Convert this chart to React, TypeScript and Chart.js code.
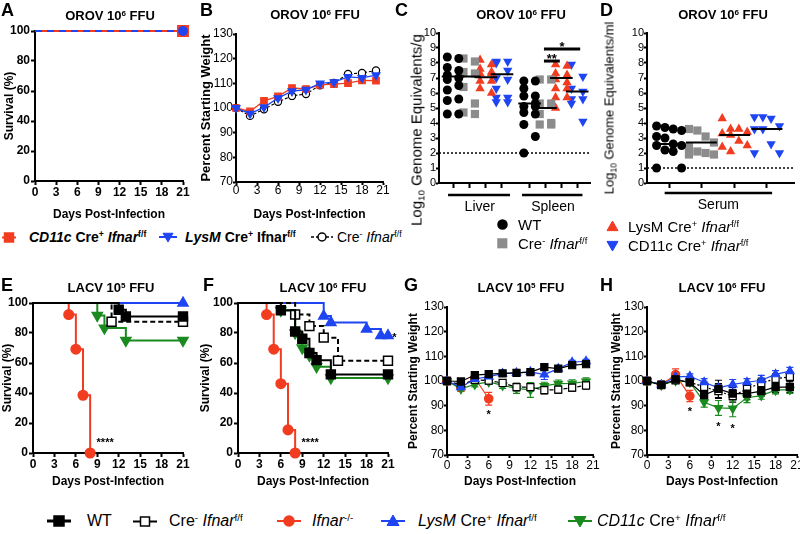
import React, { useEffect, useRef } from "react";
import { Chart, registerables } from "chart.js";

Chart.register(...registerables);
const FONT = "'Liberation Sans', Arial, Helvetica, sans-serif";
Chart.defaults.font.family = FONT;
Chart.defaults.color = "#000";

const RED = "#f23c20";
const BLUE = "#1f45f2";
const GREEN = "#1a8a1f";
const GREY = "#8c8c8c";
const BLACK = "#000000";

// ---------------- DATA ----------------
const WEIGHT_DAYS = [0, 2, 4, 6, 8, 10, 12, 14, 16, 18, 20];

// A: OROV survival
const A_DAYS = [0, 21];
const A_CD11C = [100, 100];
const A_LYSM = [100, 100];
const A_CRE = [100, 100];

// B: OROV weight
const B_CD11C = [100, 98.6, 102.9, 104.7, 108.1, 107.7, 109.4, 109.7, 110.1, 111.2, 111.1];
const B_LYSM = [100, 97.7, 100.3, 104.0, 106.8, 107.4, 110.0, 110.5, 112.6, 112.2, 113.3];
const B_CRE = [100, 96.8, 99.5, 102.5, 104.9, 105.7, 109.2, 110.2, 113.8, 114.2, 115.2];

// C: tissue titers (log10 GE/g)
const C_LIVER_WT = [8.4, 8.3, 7.7, 7.5, 7.2, 7.0, 6.9, 6.5, 6.2, 5.6, 5.5, 4.6, 4.6];
const C_LIVER_CRE = [8.3, 8.1, 7.4, 7.3, 6.4, 5.3, 4.7, 4.6];
const C_LIVER_LYSM = [8.2, 7.9, 7.6, 7.4, 7.3, 7.3, 6.8, 6.8, 6.3, 6.0];
const C_LIVER_CD11C = [8.1, 8.1, 8.0, 7.5, 7.0, 6.9, 6.3, 5.7, 5.7, 5.4, 5.4];
const C_SPLEEN_WT = [6.8, 6.8, 6.3, 5.8, 5.8, 5.3, 5.1, 5.1, 4.7, 4.6, 3.9, 3.1, 2.0];
const C_SPLEEN_CRE = [6.9, 6.9, 5.3, 5.3, 4.6, 4.0, 3.9, 3.9];
const C_SPLEEN_LYSM = [7.9, 7.8, 7.3, 7.2, 6.9, 6.7, 6.3, 6.3, 5.7, 5.7, 5.0];
const C_SPLEEN_CD11C = [7.9, 7.1, 6.3, 6.1, 5.6, 5.6, 5.3, 4.1];
const C_MEDIANS = [7.1, 7.1, 7.05, 7.25, 5.3, 5.0, 7.0, 6.1];
const C_POS = [0.93, 2.0, 3.1, 4.17, 6.0, 7.05, 8.1, 9.15];
const C_GROUP_LABELS = ["Liver", "Spleen"];
const C_GROUP_CENTERS = [2.7, 7.55];
const C_GROUP_SPANS = [[0.6, 4.7], [5.5, 9.5]];
const C_LOD = 2;
const C_SIG = [
  { from: 6.95, to: 8.0, y: 8.13, label: "**", ly: 8.5 },
  { from: 6.95, to: 9.35, y: 8.93, label: "*", ly: 9.3 },
];

// D: serum titers (log10 GE/ml)
const D_WT = [3.8, 3.7, 3.6, 3.5, 3.1, 3.0, 2.6, 2.5, 2.5, 2.2, 2.1, 1.0, 1.0];
const D_CRE = [3.6, 3.5, 3.1, 2.7, 2.4, 2.1, 2.0, 1.9, 1.9];
const D_LYSM = [4.3, 3.6, 3.6, 3.4, 3.3, 3.2, 2.8, 2.5, 2.4, 2.1];
const D_CD11C = [4.4, 4.4, 4.3, 3.8, 3.6, 3.6, 2.6, 2.0, 2.0];
const D_MEDIANS = [2.6, 2.7, 3.2, 3.6];
const D_POS = [1.5, 3.7, 5.96, 8.15];
const D_GROUP_LABELS = ["Serum"];
const D_GROUP_CENTERS = [4.85];
const D_GROUP_SPANS = [[1.2, 8.5]];
const D_LOD = 1;

// E: LACV 10^5 survival (event day, survival %)
const E_WT_T = [12, 13, 21], E_WT_S = [95.5, 91, 91];
const E_CRE_T = [11, 21], E_CRE_S = [87.5, 87.5];
const E_IFNAR_T = [5, 6, 7, 8], E_IFNAR_S = [92.3, 69.2, 38.5, 0];
const E_LYSM_T = [21], E_LYSM_S = [100];
const E_CD11C_T = [9, 10, 13, 21], E_CD11C_S = [91.7, 83.3, 75, 75];

// F: LACV 10^6 survival
const F_WT_T = [6, 8, 9, 10, 11, 13, 21], F_WT_S = [95.2, 81, 76.2, 66.7, 61.9, 52.4, 52.4];
const F_CRE_T = [8, 10, 12, 14, 21], F_CRE_S = [92.3, 84.6, 76.9, 61.5, 61.5];
const F_IFNAR_T = [4, 5, 6, 7, 8], F_IFNAR_S = [92.3, 69.2, 46.2, 15.4, 0];
const F_LYSM_T = [12, 13, 18, 20, 21], F_LYSM_S = [91.3, 87.0, 82.6, 78.3, 78.3];
const F_CD11C_T = [6, 8, 9, 10, 11, 13, 21], F_CD11C_S = [95, 80, 70, 65, 57.5, 50, 50];

// G: LACV 10^5 weight (mean, SEM)
const G_WT = [100, 99.8, 102.4, 102.8, 103.1, 103.3, 103.6, 105.6, 105.0, 106.4, 106.8];
const G_LYSM = [100, 97.5, 100.8, 101.8, 103.0, 103.3, 103.7, 102.6, 105.0, 107.6, 108.0];
const G_CRE = [100, 98.5, 100.5, 100.2, 99.2, 97.5, 97.5, 96.3, 96.5, 97.3, 98.2];
const G_CD11C = [100, 96.8, 98.6, 99.6, 98.2, 97.0, 96.4, 98.0, 98.9, 99.0, 99.8];
const G_IFNAR = [100, 97.3, 101.2, 92.8];
const G_WT_SEM = [0, 0.6, 0.6, 0.6, 0.6, 0.6, 0.6, 0.9, 0.6, 0.6, 0.6];
const G_LYSM_SEM = [0, 0.8, 0.8, 0.8, 0.6, 0.6, 0.6, 2.0, 0.8, 0.8, 0.8];
const G_CRE_SEM = [0, 1, 1, 1, 1.2, 1.5, 1.5, 1.5, 1.5, 1.5, 1.5];
const G_CD11C_SEM = [0, 1, 1, 1, 1.2, 2, 3, 1.5, 1.5, 1.5, 1.5];
const G_IFNAR_SEM = [0, 1.5, 1, 2.6];

// H: LACV 10^6 weight (mean, SEM)
const H_WT = [100, 98.3, 100.7, 99.4, 94.3, 96.8, 94.9, 94.9, 95.9, 97.5, 97.5];
const H_LYSM = [100, 98.5, 101.7, 101.9, 99.5, 97.2, 98.6, 99.5, 100.3, 102.7, 104.0];
const H_CRE = [100, 98.5, 100.3, 99.5, 97.6, 95.9, 93.9, 96.8, 99.2, 100.9, 101.7];
const H_CD11C = [100, 98.3, 100.1, 99.5, 91.4, 89.1, 88.9, 93.2, 94.1, 96.3, 96.5];
const H_IFNAR = [100, 98.5, 102.6, 93.9];
const H_WT_SEM = [0, 1, 1, 1, 2, 3.5, 2.5, 2.5, 2, 2.2, 2.2];
const H_LYSM_SEM = [0, 1, 1, 1, 1.5, 1.5, 2, 1.5, 2, 1.5, 1.5];
const H_CRE_SEM = [0, 1, 1, 1, 2, 3, 2.5, 2, 2, 2, 2];
const H_CD11C_SEM = [0, 1, 1, 1, 2, 3, 3.4, 2, 1.5, 1.5, 1.5];
const H_IFNAR_SEM = [0, 1.5, 2.3, 2.3];

// ---------------- LAYOUT ----------------
type Rect = { left: number; top: number; width: number; height: number };
type Area = { left: number; top: number; right: number; bottom: number };

const A_BOX: Rect = { left: 0, top: 20, width: 195, height: 202 };
const A_AREA: Area = { left: 35, top: 31, right: 183, bottom: 181 };
const B_BOX: Rect = { left: 195, top: 20, width: 200, height: 202 };
const B_AREA: Area = { left: 236, top: 34, right: 383, bottom: 182 };
const C_BOX: Rect = { left: 420, top: 20, width: 180, height: 200 };
const C_AREA: Area = { left: 439, top: 33, right: 590, bottom: 183 };
const D_BOX: Rect = { left: 628, top: 20, width: 172, height: 200 };
const D_AREA: Area = { left: 647, top: 33, right: 798, bottom: 183 };
const E_BOX: Rect = { left: 0, top: 292, width: 195, height: 197 };
const E_AREA: Area = { left: 33, top: 303, right: 183, bottom: 453 };
const F_BOX: Rect = { left: 195, top: 292, width: 205, height: 197 };
const F_AREA: Area = { left: 238, top: 303, right: 388, bottom: 453 };
const G_BOX: Rect = { left: 400, top: 292, width: 205, height: 197 };
const G_AREA: Area = { left: 447, top: 307, right: 593, bottom: 455 };
const H_BOX: Rect = { left: 600, top: 292, width: 210, height: 197 };
const H_AREA: Area = { left: 647, top: 307, right: 797, bottom: 455 };

const C_JITTER = [-0.38, 0.38];
const D_JITTER = [-0.85, -0.28, 0.28, 0.85];

function fitLayout(box: Rect, area: Area) {
  return {
    padTop: area.top - box.top,
    padRight: box.left + box.width - area.right,
    yWidth: area.left - box.left,
    xHeight: box.top + box.height - area.bottom,
  };
}

const AX_BORDER = { display: true, color: BLACK, width: 2 };
function gridTicks(len: number) {
  return { display: true, drawOnChartArea: false, drawTicks: true, tickLength: len, tickWidth: 2, tickColor: BLACK };
}

function baseOptions(L: any) {
  return {
    responsive: false,
    animation: false,
    events: [],
    layout: { padding: { top: L.padTop, right: L.padRight, left: 0, bottom: 0 } },
    plugins: { legend: { display: false }, tooltip: { enabled: false }, title: { display: false } },
  };
}

function dayAxis(L: any, o: { bold: boolean; tl: number; pad: number }) {
  return {
    type: "linear", min: 0, max: 21, weight: 0,
    afterFit: (s: any) => { s.height = L.xHeight; },
    ticks: { stepSize: 3, autoSkip: false, maxRotation: 0, color: BLACK, padding: o.pad, font: { size: 12, weight: o.bold ? "bold" : "normal" } },
    grid: gridTicks(o.tl),
    border: AX_BORDER,
    title: { display: true, text: "Days Post-Infection", color: BLACK, font: { size: 12, weight: "bold" }, padding: { top: 0, bottom: 0 } },
  };
}

function valueAxis(L: any, o: any) {
  return {
    type: "linear", min: o.min, max: o.max,
    afterFit: (s: any) => { s.width = L.yWidth; },
    ticks: { stepSize: o.step, autoSkip: false, color: BLACK, padding: o.pad, font: { size: o.tickSize || 12, weight: o.bold ? "bold" : "normal" } },
    grid: gridTicks(o.tl),
    border: AX_BORDER,
    title: o.title
      ? { display: true, text: o.title, color: BLACK, font: { size: o.titleSize, weight: "bold" }, padding: { top: o.titlePad, bottom: 0 } }
      : { display: false },
  };
}

type Note = { x: number; y: number; text: string; size?: number };
function overlayPlugin(spec: { errors?: { ds: number; err: number[] }[]; notes?: Note[]; bars?: { from: number; to: number; below: number }[] }) {
  return {
    id: "overlay",
    beforeDatasetsDraw(chart: any) {
      const ctx = chart.ctx;
      const ys = chart.scales.y;
      (spec.errors || []).forEach(({ ds, err }) => {
        const dset = chart.data.datasets[ds];
        const meta = chart.getDatasetMeta(ds);
        ctx.save();
        ctx.strokeStyle = dset.borderColor;
        ctx.lineWidth = 1.2;
        ctx.setLineDash([]);
        meta.data.forEach((pt: any, j: number) => {
          const e = err[j];
          if (!e) return;
          const v = dset.data[j].y;
          const y1 = ys.getPixelForValue(v - e);
          const y2 = ys.getPixelForValue(v + e);
          ctx.beginPath();
          ctx.moveTo(pt.x, y1); ctx.lineTo(pt.x, y2);
          ctx.moveTo(pt.x - 3.5, y1); ctx.lineTo(pt.x + 3.5, y1);
          ctx.moveTo(pt.x - 3.5, y2); ctx.lineTo(pt.x + 3.5, y2);
          ctx.stroke();
        });
        ctx.restore();
      });
    },
    afterDraw(chart: any) {
      const { ctx, chartArea } = chart;
      const xs = chart.scales.x;
      const ys = chart.scales.y;
      ctx.save();
      (spec.bars || []).forEach((b) => {
        const y = chartArea.bottom + b.below;
        ctx.strokeStyle = BLACK;
        ctx.lineWidth = 2.5;
        ctx.setLineDash([]);
        ctx.beginPath();
        ctx.moveTo(xs.getPixelForValue(b.from), y);
        ctx.lineTo(xs.getPixelForValue(b.to), y);
        ctx.stroke();
      });
      (spec.notes || []).forEach((n) => {
        const size = n.size || 11;
        ctx.fillStyle = BLACK;
        ctx.font = `bold ${size}px ${FONT}`;
        ctx.textAlign = "center";
        ctx.textBaseline = "middle";
        ctx.fillText(n.text, xs.getPixelForValue(n.x), ys.getPixelForValue(n.y) + size * 0.3);
      });
      ctx.restore();
    },
  };
}

// ---------------- SERIES BUILDERS ----------------
function survSeries(times: number[], vals: number[], color: string, style: string, r: number, o: any = {}) {
  const pts = [{ x: 0, y: 100 }, ...times.map((t, i) => ({ x: t, y: vals[i] }))];
  return {
    data: pts, stepped: "before", clip: false, tension: 0, fill: false,
    borderColor: color, backgroundColor: color, borderWidth: 2, borderDash: o.dash || [],
    pointStyle: style, pointRotation: o.rot || 0,
    pointRadius: pts.map((_, i) => (i === 0 ? 0 : r)),
    pointBackgroundColor: o.fill || color, pointBorderColor: color, pointBorderWidth: 1.5,
  };
}

function weightSeries(vals: number[], color: string, style: string, r: number, o: any = {}) {
  const pts = vals.map((v, i) => ({ x: WEIGHT_DAYS[i], y: v }));
  return {
    data: pts, clip: false, tension: 0, fill: false,
    borderColor: color, backgroundColor: color, borderWidth: o.bw || 1.2, borderDash: o.dash || [],
    pointStyle: style, pointRotation: o.rot || 0, pointRadius: r,
    pointBackgroundColor: o.fill || color, pointBorderColor: color, pointBorderWidth: 1.2,
  };
}

function dotSeries(vals: number[], pos: number, jitter: number[], st: any) {
  return {
    data: vals.map((v, i) => ({ x: pos + jitter[i % jitter.length], y: v })),
    showLine: false, clip: false, order: 2,
    pointStyle: st.style, pointRadius: st.r, pointRotation: st.rot,
    pointBackgroundColor: st.color, pointBorderColor: st.color, pointBorderWidth: 0,
    borderColor: st.color, backgroundColor: st.color,
  };
}

function segSeries(x1: number, x2: number, y: number, width: number, dash: number[] = [], order = 0) {
  return {
    data: [{ x: x1, y }, { x: x2, y }], borderColor: BLACK, borderWidth: width, borderDash: dash,
    pointRadius: 0, clip: false, order, tension: 0, fill: false,
  };
}

const DOT_STYLES = [
  { color: BLACK, style: "circle", r: 4.5, rot: 0 },
  { color: GREY, style: "rect", r: 5.8, rot: 0 },
  { color: RED, style: "triangle", r: 5.4, rot: 0 },
  { color: BLUE, style: "triangle", r: 5.4, rot: 180 },
];

// ---------------- CHART CONFIGS ----------------
function makeA() {
  const L = fitLayout(A_BOX, A_AREA);
  const mk = (vals: number[]) => A_DAYS.map((d, i) => ({ x: d, y: vals[i] }));
  const last = (r: number) => A_DAYS.map((_, i) => (i === A_DAYS.length - 1 ? r : 0));
  return {
    type: "line",
    data: {
      datasets: [
        { data: mk(A_LYSM), borderColor: BLUE, borderWidth: 2, borderDash: [7, 5], pointStyle: "circle", pointRadius: last(4), pointBackgroundColor: BLUE, pointBorderColor: BLUE, clip: false, order: 0 },
        { data: mk(A_CD11C), borderColor: RED, borderWidth: 2, pointStyle: "rect", pointRadius: last(7), pointBackgroundColor: RED, pointBorderColor: RED, clip: false, order: 1 },
        { data: mk(A_CRE), borderColor: BLACK, borderWidth: 1.5, borderDash: [4, 3], pointStyle: "circle", pointRadius: last(3.5), pointBackgroundColor: "#fff", pointBorderColor: BLACK, clip: false, order: 2 },
      ],
    },
    options: {
      ...baseOptions(L),
      scales: {
        x: dayAxis(L, { bold: true, tl: 4, pad: 0 }),
        y: valueAxis(L, { min: 0, max: 100, step: 20, bold: true, tl: 4, pad: 1, title: "Survival (%)", titleSize: 12, titlePad: 2 }),
      },
    },
  };
}

function makeB() {
  const L = fitLayout(B_BOX, B_AREA);
  return {
    type: "line",
    data: {
      datasets: [
        weightSeries(B_LYSM, BLUE, "triangle", 4.6, { rot: 180, bw: 1.3 }),
        weightSeries(B_CD11C, RED, "rect", 4.6, { bw: 1.3 }),
        weightSeries(B_CRE, BLACK, "circle", 3.6, { fill: "#fff", dash: [3, 2], bw: 1.1 }),
      ],
    },
    options: {
      ...baseOptions(L),
      scales: {
        x: dayAxis(L, { bold: false, tl: 3, pad: -2 }),
        y: valueAxis(L, { min: 70, max: 130, step: 10, bold: false, tl: 3, pad: 0, title: "Percent Starting Weight", titleSize: 13, titlePad: 4 }),
      },
    },
  };
}

function dotConfig(box: Rect, area: Area, groups: number[][], pos: number[], medians: number[], medHalf: number, jitter: number[], lod: number, x1h: number, labels: string[], centers: number[], spans: number[][], below: number, extra: any[], notes: Note[]) {
  const L = fitLayout(box, area);
  const datasets: any[] = [];
  medians.forEach((m, i) => datasets.push(segSeries(pos[i] - medHalf, pos[i] + medHalf, m, 2, [], 0)));
  extra.forEach((e) => datasets.push(e));
  groups.forEach((g, i) => datasets.push(dotSeries(g, pos[i], jitter, DOT_STYLES[i % 4])));
  datasets.push(segSeries(0, 10, lod, 1.5, [2, 2], 3));
  return {
    type: "line",
    data: { datasets },
    options: {
      ...baseOptions(L),
      scales: {
        x: {
          type: "linear", min: 0, max: 10, weight: 0,
          afterBuildTicks: (s: any) => { s.ticks = pos.map((v) => ({ value: v })); },
          afterFit: (s: any) => { s.height = x1h; },
          ticks: { callback: () => "", autoSkip: false, maxRotation: 0 },
          grid: gridTicks(5),
          border: AX_BORDER,
        },
        x2: {
          type: "linear", position: "bottom", axis: "x", min: 0, max: 10, weight: 1,
          afterBuildTicks: (s: any) => { s.ticks = centers.map((v) => ({ value: v })); },
          afterFit: (s: any) => { s.height = L.xHeight - x1h; },
          ticks: { callback: (_v: any, i: number) => labels[i], autoSkip: false, maxRotation: 0, color: BLACK, padding: 2.6, font: { size: 14 } },
          grid: { display: false, drawTicks: false, tickLength: 0 },
          border: { display: false },
        },
        y: valueAxis(L, { min: 0, max: 10, step: 1, bold: false, tl: 3, pad: 0, tickSize: 11 }),
      },
    },
    plugins: [overlayPlugin({ bars: spans.map((s) => ({ from: s[0], to: s[1], below })), notes })],
  };
}

function makeC() {
  const sig = C_SIG.map((s) => segSeries(s.from, s.to, s.y, 3, [], 0));
  const notes = C_SIG.map((s) => ({ x: (s.from + s.to) / 2, y: s.ly, text: s.label, size: 13 }));
  return dotConfig(
    C_BOX, C_AREA,
    [C_LIVER_WT, C_LIVER_CRE, C_LIVER_LYSM, C_LIVER_CD11C, C_SPLEEN_WT, C_SPLEEN_CRE, C_SPLEEN_LYSM, C_SPLEEN_CD11C],
    C_POS, C_MEDIANS, 0.75, C_JITTER, C_LOD, 13, C_GROUP_LABELS, C_GROUP_CENTERS, C_GROUP_SPANS, 12, sig, notes,
  );
}

function makeD() {
  return dotConfig(
    D_BOX, D_AREA, [D_WT, D_CRE, D_LYSM, D_CD11C], D_POS, D_MEDIANS, 1.05, D_JITTER, D_LOD, 11,
    D_GROUP_LABELS, D_GROUP_CENTERS, D_GROUP_SPANS, 10, [], [],
  );
}

function survConfig(box: Rect, area: Area, sets: any[], notes: Note[], titlePad: number) {
  const L = fitLayout(box, area);
  return {
    type: "line",
    data: { datasets: sets },
    options: {
      ...baseOptions(L),
      scales: {
        x: dayAxis(L, { bold: true, tl: 4, pad: 0 }),
        y: valueAxis(L, { min: 0, max: 100, step: 20, bold: true, tl: 4, pad: 1, title: "Survival (%)", titleSize: 12, titlePad }),
      },
    },
    plugins: [overlayPlugin({ notes })],
  };
}

function makeE() {
  return survConfig(E_BOX, E_AREA, [
    survSeries(E_WT_T, E_WT_S, BLACK, "rect", 6.3),
    survSeries(E_CRE_T, E_CRE_S, BLACK, "rect", 6.3, { fill: "#fff", dash: [5, 3] }),
    survSeries(E_CD11C_T, E_CD11C_S, GREEN, "triangle", 5.8, { rot: 180 }),
    survSeries(E_LYSM_T, E_LYSM_S, BLUE, "triangle", 5.8),
    survSeries(E_IFNAR_T, E_IFNAR_S, RED, "circle", 4.8),
  ], [{ x: 10.1, y: 8.9, text: "****", size: 11 }], 0);
}

function makeF() {
  return survConfig(F_BOX, F_AREA, [
    survSeries(F_WT_T, F_WT_S, BLACK, "rect", 6.3),
    survSeries(F_CRE_T, F_CRE_S, BLACK, "rect", 6.3, { fill: "#fff", dash: [5, 3] }),
    survSeries(F_CD11C_T, F_CD11C_S, GREEN, "triangle", 5.8, { rot: 180 }),
    survSeries(F_LYSM_T, F_LYSM_S, BLUE, "triangle", 5.8),
    survSeries(F_IFNAR_T, F_IFNAR_S, RED, "circle", 4.8),
  ], [{ x: 10.1, y: 8.9, text: "****", size: 11 }, { x: 21.9, y: 79, text: "*", size: 11 }], 3);
}

function weightConfig(box: Rect, area: Area, sets: any[], errs: number[][], notes: Note[], titlePad: number) {
  const L = fitLayout(box, area);
  return {
    type: "line",
    data: { datasets: sets },
    options: {
      ...baseOptions(L),
      scales: {
        x: dayAxis(L, { bold: false, tl: 3, pad: 0 }),
        y: valueAxis(L, { min: 70, max: 130, step: 10, bold: false, tl: 3, pad: 0, title: "Percent Starting Weight", titleSize: 12, titlePad }),
      },
    },
    plugins: [overlayPlugin({ errors: errs.map((err, ds) => ({ ds, err })), notes })],
  };
}

function makeG() {
  return weightConfig(G_BOX, G_AREA, [
    weightSeries(G_WT, BLACK, "rect", 5),
    weightSeries(G_LYSM, BLUE, "triangle", 4.8),
    weightSeries(G_CRE, BLACK, "rect", 5, { fill: "#fff", dash: [4, 3] }),
    weightSeries(G_CD11C, GREEN, "triangle", 4.8, { rot: 180 }),
    weightSeries(G_IFNAR, RED, "circle", 4.2),
  ], [G_WT_SEM, G_LYSM_SEM, G_CRE_SEM, G_CD11C_SEM, G_IFNAR_SEM], [{ x: 6, y: 87.6, text: "*", size: 11 }], 6);
}

function makeH() {
  return weightConfig(H_BOX, H_AREA, [
    weightSeries(H_WT, BLACK, "rect", 5),
    weightSeries(H_LYSM, BLUE, "triangle", 4.8),
    weightSeries(H_CRE, BLACK, "rect", 5, { fill: "#fff", dash: [2, 2] }),
    weightSeries(H_CD11C, GREEN, "triangle", 4.8, { rot: 180 }),
    weightSeries(H_IFNAR, RED, "circle", 4.2),
  ], [H_WT_SEM, H_LYSM_SEM, H_CRE_SEM, H_CD11C_SEM, H_IFNAR_SEM], [
    { x: 6, y: 88.7, text: "*", size: 11 },
    { x: 10, y: 82.8, text: "*", size: 11 },
    { x: 12, y: 82.0, text: "*", size: 11 },
  ], 9);
}

// ---------------- COMPONENTS ----------------
function Panel({ box, make }: { box: Rect; make: () => any }) {
  const ref = useRef<HTMLCanvasElement | null>(null);
  useEffect(() => {
    if (!ref.current) return;
    const chart = new Chart(ref.current, make() as any);
    return () => chart.destroy();
  }, []);
  return (
    <canvas
      ref={ref}
      width={box.width}
      height={box.height}
      style={{ position: "absolute", left: box.left, top: box.top, width: box.width, height: box.height }}
    />
  );
}

const Sup = ({ children }: any) => (
  <span style={{ fontSize: "0.62em", verticalAlign: "0.55em", lineHeight: 0 }}>{children}</span>
);
const Sub = ({ children }: any) => (
  <span style={{ fontSize: "0.65em", verticalAlign: "-0.3em", lineHeight: 0 }}>{children}</span>
);

function Txt({ x, y, size, bold, align, w = 300, children }: any) {
  const lh = Math.round(size * 1.25);
  const style: any = {
    position: "absolute", top: y - lh / 2, fontSize: size, lineHeight: lh + "px",
    fontWeight: bold ? "bold" : "normal", whiteSpace: "nowrap", color: "#000",
  };
  if (align === "center") { style.left = x - w / 2; style.width = w; style.textAlign = "center"; }
  else style.left = x;
  return <div style={style}>{children}</div>;
}

function VTxt({ cx, cy, size, children }: any) {
  return (
    <div style={{ position: "absolute", left: cx, top: cy, transform: "translate(-50%, -50%) rotate(-90deg)", fontSize: size, lineHeight: 1, whiteSpace: "nowrap", color: "#000" }}>
      {children}
    </div>
  );
}

function Mk({ cx, cy, shape, color, fill, half = 0, lw = 2, dash, s = 5 }: any) {
  const W = Math.max(half, s) * 2 + 4;
  const H = s * 2 + 4;
  const ox = W / 2, oy = H / 2;
  let el: any = null;
  if (shape === "rect") el = <rect x={ox - s} y={oy - s} width={2 * s} height={2 * s} fill={fill} stroke={color} strokeWidth={1.5} />;
  else if (shape === "circle") el = <circle cx={ox} cy={oy} r={s} fill={fill} stroke={color} strokeWidth={1.5} />;
  else if (shape === "up") el = <polygon points={`${ox},${oy - s} ${ox + s},${oy + s * 0.75} ${ox - s},${oy + s * 0.75}`} fill={fill} stroke={color} strokeWidth={1} />;
  else if (shape === "down") el = <polygon points={`${ox},${oy + s} ${ox + s},${oy - s * 0.75} ${ox - s},${oy - s * 0.75}`} fill={fill} stroke={color} strokeWidth={1} />;
  return (
    <svg width={W} height={H} style={{ position: "absolute", left: cx - ox, top: cy - oy, overflow: "visible" }}>
      {half > 0 && <line x1={ox - half} y1={oy} x2={ox + half} y2={oy} stroke={color} strokeWidth={lw} strokeDasharray={dash} />}
      {el}
    </svg>
  );
}

export default function App() {
  return (
    <div style={{ position: "absolute", left: 0, top: 0, width: 800, height: 534, overflow: "hidden", background: "#fff", fontFamily: FONT, color: "#000" }}>
      <Panel box={A_BOX} make={makeA} />
      <Panel box={B_BOX} make={makeB} />
      <Panel box={C_BOX} make={makeC} />
      <Panel box={D_BOX} make={makeD} />
      <Panel box={E_BOX} make={makeE} />
      <Panel box={F_BOX} make={makeF} />
      <Panel box={G_BOX} make={makeG} />
      <Panel box={H_BOX} make={makeH} />

      {/* panel letters */}
      <Txt x={1} y={10} size={18} bold>A</Txt>
      <Txt x={200} y={10} size={18} bold>B</Txt>
      <Txt x={395} y={10} size={18} bold>C</Txt>
      <Txt x={600} y={10} size={18} bold>D</Txt>
      <Txt x={1} y={285} size={18} bold>E</Txt>
      <Txt x={203} y={285} size={18} bold>F</Txt>
      <Txt x={404} y={285} size={18} bold>G</Txt>
      <Txt x={600} y={285} size={18} bold>H</Txt>

      {/* panel titles */}
      <Txt x={110} y={16} size={13} bold align="center">OROV 10<Sup>6</Sup> FFU</Txt>
      <Txt x={315} y={15} size={13} bold align="center">OROV 10<Sup>6</Sup> FFU</Txt>
      <Txt x={521} y={15} size={13} bold align="center">OROV 10<Sup>6</Sup> FFU</Txt>
      <Txt x={723} y={15} size={13} bold align="center">OROV 10<Sup>6</Sup> FFU</Txt>
      <Txt x={111} y={288} size={13} bold align="center">LACV 10<Sup>5</Sup> FFU</Txt>
      <Txt x={323} y={288} size={13} bold align="center">LACV 10<Sup>6</Sup> FFU</Txt>
      <Txt x={521} y={288} size={13} bold align="center">LACV 10<Sup>5</Sup> FFU</Txt>
      <Txt x={722} y={288} size={13} bold align="center">LACV 10<Sup>6</Sup> FFU</Txt>

      {/* C / D y titles */}
      <VTxt cx={416} cy={130} size={15}>Log<Sub>10</Sub> Genome Equivalents/g</VTxt>
      <VTxt cx={609} cy={108} size={13}>Log<Sub>10</Sub> Genome Equivalents/ml</VTxt>

      {/* legend for A/B */}
      <Mk cx={9} cy={237} shape="rect" color={RED} fill={RED} half={7} s={4.5} />
      <Txt x={29} y={237} size={14} bold><i>CD11c</i> Cre<Sup>+</Sup> <i>Ifnar</i><Sup>f/f</Sup></Txt>
      <Mk cx={168} cy={237} shape="down" color={BLUE} fill={BLUE} half={9} s={5} />
      <Txt x={185} y={237} size={14} bold><i>LysM</i> Cre<Sup>+</Sup> Ifnar<Sup>f/f</Sup></Txt>
      <Mk cx={322} cy={237} shape="circle" color={BLACK} fill="#fff" half={11} lw={1.3} dash="3,2" s={4} />
      <Txt x={337} y={237} size={14}>Cre<Sup>-</Sup> <i>Ifnar</i><Sup>f/f</Sup></Txt>

      {/* legend for C/D */}
      <Mk cx={502} cy={224} shape="circle" color={BLACK} fill={BLACK} s={4.5} />
      <Txt x={518} y={224} size={15}>WT</Txt>
      <Mk cx={502} cy={243} shape="rect" color={GREY} fill={GREY} s={4.3} />
      <Txt x={518} y={243} size={15}>Cre<Sup>-</Sup> <i>Ifnar</i><Sup>f/f</Sup></Txt>
      <Mk cx={612} cy={226} shape="up" color={RED} fill={RED} s={5.5} />
      <Txt x={628} y={226} size={15}>LysM Cre<Sup>+</Sup> <i>Ifnar</i><Sup>f/f</Sup></Txt>
      <Mk cx={612} cy={245} shape="down" color={BLUE} fill={BLUE} s={5.5} />
      <Txt x={628} y={245} size={15}>CD11c Cre<Sup>+</Sup> <i>Ifnar</i><Sup>f/f</Sup></Txt>

      {/* legend for E-H */}
      <Mk cx={59} cy={521} shape="rect" color={BLACK} fill={BLACK} half={12} lw={3} s={5} />
      <Txt x={87} y={521} size={16}>WT</Txt>
      <Mk cx={145} cy={521} shape="rect" color={BLACK} fill="#fff" half={12} lw={2} s={4.5} />
      <Txt x={169} y={521} size={16}>Cre<Sup>-</Sup> <i>Ifnar</i><Sup>f/f</Sup></Txt>
      <Mk cx={289} cy={521} shape="circle" color={RED} fill={RED} half={12} lw={2} s={5} />
      <Txt x={312} y={521} size={16}><i>Ifnar</i><Sup>-/-</Sup></Txt>
      <Mk cx={393} cy={521} shape="up" color={BLUE} fill={BLUE} half={12} lw={2} s={6} />
      <Txt x={418} y={521} size={16}><i>LysM</i> Cre<Sup>+</Sup> <i>Ifnar</i><Sup>f/f</Sup></Txt>
      <Mk cx={580} cy={521} shape="down" color={GREEN} fill={GREEN} half={12} lw={2} s={6} />
      <Txt x={597} y={521} size={16}><i>CD11c</i> Cre<Sup>+</Sup> <i>Ifnar</i><Sup>f/f</Sup></Txt>
    </div>
  );
}
